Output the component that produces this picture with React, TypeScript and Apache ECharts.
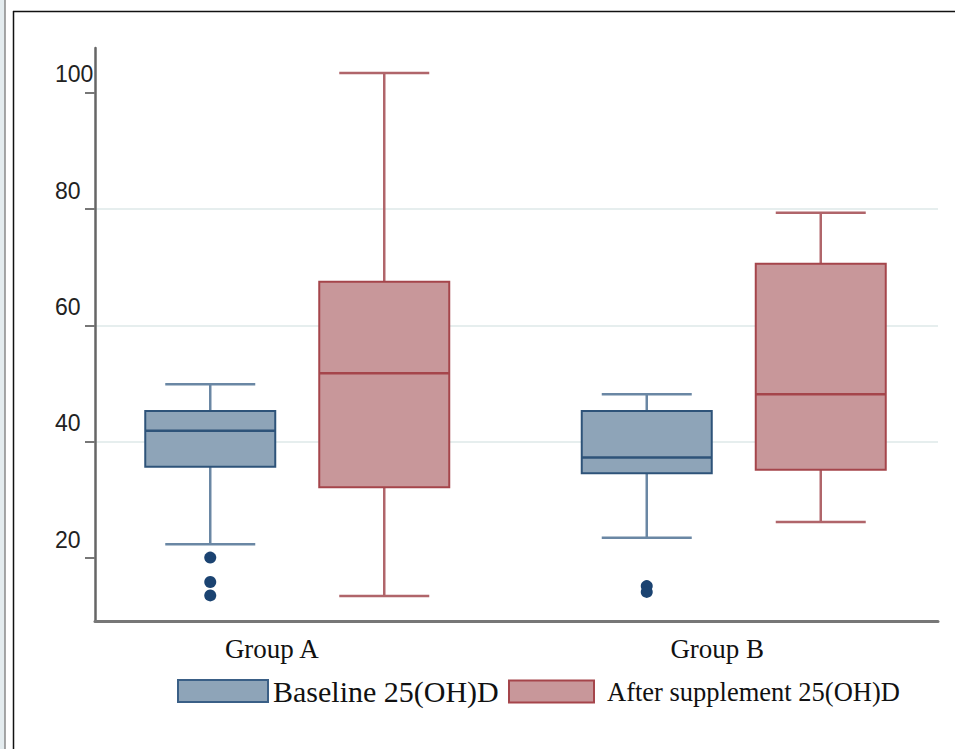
import React, { useEffect, useRef } from 'react';
import * as echarts from 'echarts';

const categories = ['Group A', 'Group B'];
// [min, Q1, median, Q3, max]
const baselineStats = [
  [22.4, 35.7, 41.9, 45.3, 49.9],
  [23.5, 34.6, 37.3, 45.3, 48.2],
];
const afterStats = [
  [13.5, 32.2, 51.8, 67.5, 103.4],
  [26.2, 35.2, 48.2, 70.6, 79.4],
];
// [category index, value]
const baselineOutliers = [
  [0, 20.1],
  [0, 15.9],
  [0, 13.6],
  [1, 15.2],
  [1, 14.2],
];
const yTicks = [20, 40, 60, 80, 100];
const seriesNames = ['Baseline 25(OH)D', 'After supplement 25(OH)D'];

const BLUE = { fill: '#8ea4b8', border: '#2e5379', whisker: '#6a87a4' };
const RED = { fill: '#c8979a', border: '#a5454b', whisker: '#b0656a' };

function makeBox(offset: number, c: { fill: string; border: string; whisker: string }) {
  return (params: any, api: any) => {
    const idx = api.value(0);
    const pMin = api.coord([idx, api.value(1)]);
    const pQ1 = api.coord([idx, api.value(2)]);
    const pMed = api.coord([idx, api.value(3)]);
    const pQ3 = api.coord([idx, api.value(4)]);
    const pMax = api.coord([idx, api.value(5)]);
    const cx = pMin[0] + offset;
    const hw = 65;
    const cw = 45;
    const wStyle = { stroke: c.whisker, lineWidth: 2.5 };
    return {
      type: 'group',
      children: [
        { type: 'line', shape: { x1: cx, y1: pMax[1], x2: cx, y2: pQ3[1] }, style: wStyle },
        { type: 'line', shape: { x1: cx, y1: pQ1[1], x2: cx, y2: pMin[1] }, style: wStyle },
        { type: 'line', shape: { x1: cx - cw, y1: pMax[1], x2: cx + cw, y2: pMax[1] }, style: wStyle },
        { type: 'line', shape: { x1: cx - cw, y1: pMin[1], x2: cx + cw, y2: pMin[1] }, style: wStyle },
        {
          type: 'rect',
          shape: { x: cx - hw, y: pQ3[1], width: hw * 2, height: pQ1[1] - pQ3[1] },
          style: { fill: c.fill, stroke: c.border, lineWidth: 2 },
        },
        {
          type: 'line',
          shape: { x1: cx - hw, y1: pMed[1], x2: cx + hw, y2: pMed[1] },
          style: { stroke: c.border, lineWidth: 2.5 },
        },
      ],
    };
  };
}

const Y_MIN = 9.2;
const Y_MAX = 107.7;

export default function App() {
  const ref = useRef<HTMLDivElement>(null);
  useEffect(() => {
    if (!ref.current) return;
    const chart = echarts.init(ref.current, null, { renderer: 'svg' });
    const serif = '"Liberation Serif", "Times New Roman", serif';
    const sans = '"Liberation Sans", Arial, sans-serif';
    chart.setOption({
      animation: false,
      backgroundColor: '#ffffff',
      grid: [
        { left: 95, right: 17, top: 48, bottom: 128 },
        { left: 79, right: 3, top: 48, bottom: 128 },
      ],
      xAxis: [
        {
          type: 'category',
          gridIndex: 0,
          data: categories,
          boundaryGap: true,
          axisLine: { show: true, lineStyle: { color: '#777777', width: 3 } },
          axisTick: { show: false },
          splitLine: { show: false },
          axisLabel: {
            margin: 14,
            color: '#111',
            fontFamily: serif,
            fontSize: 27,
            formatter: (v: string, i: number) => (i === 0 ? '{a|' + v + '}' : '{b|' + v + '}'),
            rich: {
              a: { fontFamily: serif, fontSize: 27, color: '#111', padding: [0, 68, 0, 0] },
              b: { fontFamily: serif, fontSize: 27, color: '#111', padding: [0, 20, 0, 0] },
            },
          },
        },
        {
          type: 'category',
          gridIndex: 1,
          data: categories,
          boundaryGap: true,
          show: false,
        },
      ],
      yAxis: [
        {
          type: 'value',
          gridIndex: 0,
          min: Y_MIN,
          max: Y_MAX,
          axisLine: { show: true, lineStyle: { color: '#666666', width: 2.5 } },
          axisTick: {
            show: true,
            length: 10,
            customValues: yTicks,
            lineStyle: { color: '#777777', width: 2 },
          },
          axisLabel: {
            customValues: yTicks,
            align: 'left',
            verticalAlign: 'bottom',
            margin: 40,
            padding: [0, 0, 7, 0],
            color: '#222',
            fontFamily: sans,
            fontSize: 23,
          },
          splitLine: {
            show: true,
            showMinLine: false,
            showMaxLine: false,
            lineStyle: { color: '#e6eeee', width: 2 },
          },
        },
        {
          type: 'value',
          gridIndex: 1,
          min: Y_MIN,
          max: Y_MAX,
          show: false,
          splitLine: { show: false },
        },
      ],
      legend: [
        {
          left: 177,
          top: 676,
          padding: 0,
          selectedMode: false,
          itemWidth: 90,
          itemHeight: 22,
          data: [
            {
              name: seriesNames[0],
              icon: 'rect',
              itemStyle: { color: BLUE.fill, borderColor: '#3a5f86', borderWidth: 2 },
            },
          ],
          textStyle: { fontFamily: serif, fontSize: 30, color: '#111' },
        },
        {
          left: 508,
          top: 678,
          padding: 0,
          selectedMode: false,
          itemWidth: 85,
          itemHeight: 22,
          data: [
            {
              name: seriesNames[1],
              icon: 'rect',
              itemStyle: { color: RED.fill, borderColor: RED.border, borderWidth: 2 },
            },
          ],
          textStyle: { fontFamily: serif, fontSize: 26.5, color: '#111', padding: [0, 0, 0, 8] },
        },
      ],
      graphic: [
        { type: 'rect', shape: { x: 0, y: 0, width: 5, height: 749 }, style: { fill: '#e4ecef' } },
        { type: 'line', shape: { x1: 5, y1: 0, x2: 5, y2: 749 }, style: { stroke: '#8a8a8a', lineWidth: 1.5 } },
        { type: 'line', shape: { x1: 13.5, y1: 11, x2: 13.5, y2: 749 }, style: { stroke: '#111', lineWidth: 1.5 } },
        { type: 'line', shape: { x1: 13, y1: 11.5, x2: 955, y2: 11.5 }, style: { stroke: '#111', lineWidth: 1.5 } },
      ],
      series: [
        {
          name: seriesNames[0],
          type: 'custom',
          xAxisIndex: 1,
          yAxisIndex: 1,
          itemStyle: { color: BLUE.fill, borderColor: BLUE.border },
          encode: { x: 0, y: [1, 2, 3, 4, 5] },
          data: baselineStats.map((s, i) => [i, ...s]),
          renderItem: makeBox(-87, BLUE),
          z: 3,
        },
        {
          name: seriesNames[1],
          type: 'custom',
          xAxisIndex: 1,
          yAxisIndex: 1,
          itemStyle: { color: RED.fill, borderColor: RED.border },
          encode: { x: 0, y: [1, 2, 3, 4, 5] },
          data: afterStats.map((s, i) => [i, ...s]),
          renderItem: makeBox(87, RED),
          z: 3,
        },
        {
          name: 'Baseline outliers',
          type: 'scatter',
          xAxisIndex: 1,
          yAxisIndex: 1,
          symbol: 'circle',
          symbolSize: 12,
          symbolOffset: [-87, 0],
          itemStyle: { color: '#1b4371', opacity: 1 },
          data: baselineOutliers,
          z: 4,
        },
      ],
    });
    return () => chart.dispose();
  }, []);
  return (
    <div
      ref={ref}
      style={{ position: 'fixed', left: 0, top: 0, width: 955, height: 749, background: '#fff' }}
    />
  );
}
